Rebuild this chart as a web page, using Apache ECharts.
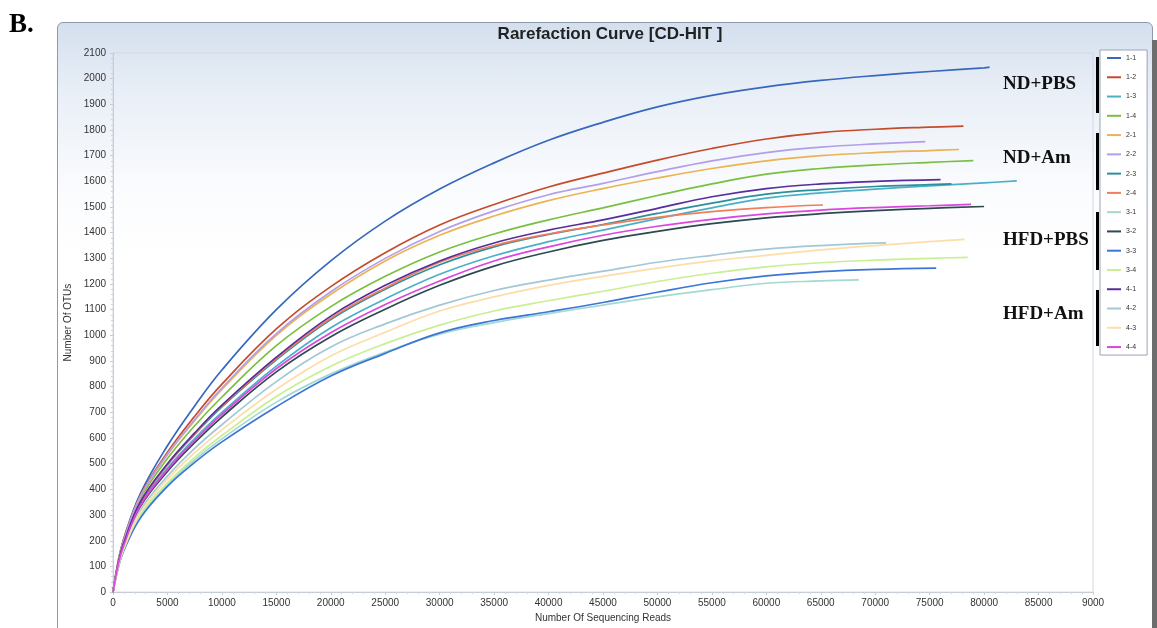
<!DOCTYPE html>
<html>
<head>
<meta charset="utf-8">
<script src="https://cdn.jsdelivr.net/npm/echarts@6/dist/echarts.min.js"></script>
<style>
  html, body { margin: 0; padding: 0; background: #fff; }
  #wrap { position: relative; width: 1157px; height: 628px; overflow: hidden; }
  #panel {
    position: absolute; left: 57px; top: 22px; width: 1094px; height: 640px;
    border: 1px solid #8d9aab; border-radius: 6px;
    background: linear-gradient(#d4dfee 0px, #e9eff7 70px, #fbfcfe 170px, #ffffff 240px);
  }
  #edge { position: absolute; left: 1152px; top: 40px; width: 5px; height: 588px; background: #6d6d6d; }
  #chart { position: absolute; left: 0; top: 0; width: 1157px; height: 628px; }
</style>
</head>
<body>
<div id="wrap">
  <div id="panel"></div>
  <div id="edge"></div>
  <div id="chart"></div>
</div>
<script>
// sampling depths (number of sequencing reads)
const readSteps = [0, 500, 1000, 2500, 5000, 7500, 10000, 15000, 20000, 25000, 30000,
  35000, 40000, 45000, 50000, 55000, 60000, 65000, 70000, 75000, 80000];

// OTU counts, one array per sample
const otu11 = [0, 125, 210, 383, 570, 725, 865, 1100, 1290, 1445, 1570, 1672, 1760, 1830, 1890, 1935, 1968, 1993, 2012, 2028, 2042];
const otu12 = [0, 122, 205, 375, 545, 685, 810, 1025, 1190, 1322, 1430, 1510, 1578, 1632, 1683, 1728, 1765, 1790, 1803, 1811];
const otu13 = [0, 112, 186, 340, 482, 598, 700, 880, 1030, 1142, 1238, 1310, 1365, 1410, 1455, 1497, 1535, 1555, 1570, 1582, 1594];
const otu14 = [0, 118, 198, 362, 520, 648, 760, 960, 1112, 1230, 1325, 1395, 1450, 1497, 1545, 1590, 1628, 1650, 1664, 1674];
const otu21 = [0, 120, 202, 370, 535, 668, 790, 1000, 1160, 1290, 1390, 1465, 1525, 1572, 1613, 1650, 1680, 1700, 1712, 1720];
const otu22 = [0, 120, 202, 372, 538, 672, 795, 1007, 1170, 1300, 1405, 1485, 1548, 1592, 1638, 1680, 1712, 1733, 1746];
const otu23 = [0, 114, 190, 347, 495, 614, 722, 905, 1062, 1180, 1275, 1345, 1393, 1432, 1475, 1515, 1550, 1568, 1580, 1587];
const otu24 = [0, 115, 191, 348, 497, 617, 725, 910, 1067, 1185, 1285, 1350, 1395, 1430, 1460, 1482, 1498];
const otu31 = [0, 100, 166, 296, 418, 515, 597, 740, 850, 935, 1005, 1050, 1085, 1118, 1150, 1178, 1203, 1212];
const otu32 = [0, 110, 182, 332, 470, 582, 682, 858, 995, 1102, 1195, 1270, 1325, 1370, 1405, 1435, 1458, 1474, 1486, 1495];
const otu33 = [0, 98, 162, 288, 412, 505, 585, 722, 842, 930, 1010, 1058, 1092, 1128, 1168, 1205, 1232, 1248, 1257];
const otu34 = [0, 102, 168, 302, 425, 525, 610, 762, 880, 968, 1040, 1095, 1135, 1172, 1210, 1242, 1267, 1283, 1293, 1300];
const otu41 = [0, 115, 192, 350, 500, 620, 728, 915, 1075, 1195, 1290, 1360, 1410, 1450, 1495, 1540, 1572, 1590, 1600];
const otu42 = [0, 106, 176, 318, 452, 560, 652, 820, 955, 1045, 1118, 1175, 1215, 1250, 1285, 1312, 1336, 1350];
const otu43 = [0, 104, 172, 310, 440, 543, 632, 790, 920, 1012, 1095, 1150, 1195, 1230, 1262, 1290, 1312, 1333, 1350, 1365];
const otu44 = [0, 111, 184, 336, 477, 590, 692, 870, 1010, 1120, 1212, 1290, 1345, 1390, 1425, 1452, 1473, 1488, 1498, 1505];

// last point of each curve (total reads of the sample, OTUs)
const endReads = [80500, 78100, 83000, 79000, 77700, 74600, 77000, 65200, 68500, 80000, 75600, 78500, 76000, 71000, 78200, 78800];
const endOtus = [2045, 1815, 1602, 1681, 1724, 1755, 1590, 1508, 1216, 1502, 1262, 1304, 1607, 1360, 1374, 1510];

const sampleNames = ['1-1', '1-2', '1-3', '1-4', '2-1', '2-2', '2-3', '2-4', '3-1', '3-2', '3-3', '3-4', '4-1', '4-2', '4-3', '4-4'];
const sampleColors = ['#3768bd', '#c64b2b', '#4bb0c6', '#79c040', '#ecb353', '#b39eea', '#2e8e9c', '#f27d5a',
  '#a3d9d1', '#2d4a50', '#3b76d8', '#c8ef92', '#5a2d9c', '#a2c8d6', '#fddda8', '#dc46dc'];
const otuTable = [otu11, otu12, otu13, otu14, otu21, otu22, otu23, otu24, otu31, otu32, otu33, otu34, otu41, otu42, otu43, otu44];

const groupLabels = ['ND+PBS', 'ND+Am', 'HFD+PBS', 'HFD+Am'];

const chart = echarts.init(document.getElementById('chart'));

const series = sampleNames.map((name, i) => {
  const pts = otuTable[i].map((v, k) => [readSteps[k], v]);
  pts.push([endReads[i], endOtus[i]]);
  return {
    name: name,
    type: 'line',
    data: pts,
    symbol: 'none',
    smooth: 0.4,
    lineStyle: { width: 1.7, color: sampleColors[i] },
    itemStyle: { color: sampleColors[i] },
    z: 2
  };
});

const labelFont = 'Liberation Sans, Arial, sans-serif';
const graphics = [
  { type: 'text', left: 9, top: 12, style: { text: 'B.', font: 'bold 27px "Liberation Serif", serif', fill: '#000' } }
];
const groupTops = [75, 149, 231, 305];
const barSpans = [[57, 113], [133, 190], [212, 270], [290, 346]];
groupLabels.forEach((g, i) => {
  graphics.push({ type: 'text', left: 1003, top: groupTops[i],
    style: { text: g, font: 'bold 19px "Liberation Serif", serif', fill: '#111' } });
  graphics.push({ type: 'rect', shape: { x: 1096, y: barSpans[i][0], width: 3, height: barSpans[i][1] - barSpans[i][0] },
    style: { fill: '#000' }, z: 10 });
});

chart.setOption({
  animation: false,
  backgroundColor: 'transparent',
  title: {
    text: 'Rarefaction Curve [CD-HIT ]',
    left: 605,
    top: 21,
    textAlign: 'center',
    textStyle: { fontFamily: labelFont, fontSize: 17, fontWeight: 'bold', color: '#222' }
  },
  legend: {
    orient: 'vertical',
    left: 1100,
    top: 50,
    padding: [3, 11, 3, 7],
    icon: 'rect',
    itemWidth: 14,
    itemHeight: 2,
    itemGap: 9.27,
    backgroundColor: '#fff',
    borderColor: '#9aa5b4',
    borderWidth: 1,
    textStyle: { fontSize: 7, lineHeight: 10, color: '#333', fontFamily: labelFont },
    data: sampleNames
  },
  grid: {
    left: 113, right: 64, top: 53, bottom: 34,
    show: true, borderColor: '#d3d9e2', borderWidth: 1, backgroundColor: 'transparent'
  },
  xAxis: {
    type: 'value',
    min: 0, max: 90000, interval: 5000,
    name: 'Number Of Sequencing Reads',
    nameLocation: 'middle',
    nameGap: 17,
    nameTextStyle: { fontFamily: labelFont, fontSize: 10, color: '#333' },
    axisLine: { lineStyle: { color: '#c7cdd6' } },
    axisTick: { show: true, length: 3, lineStyle: { color: '#c7cdd6' } },
    minorTick: { show: true, splitNumber: 5, length: 2, lineStyle: { color: '#cfd5dd' } },
    axisLabel: {
      fontFamily: labelFont, fontSize: 10, color: '#333', margin: 6,
      formatter: v => (v === 90000 ? '9000' : String(v))
    },
    splitLine: { show: false }
  },
  yAxis: {
    type: 'value',
    min: 0, max: 2100, interval: 100,
    name: 'Number Of OTUs',
    nameLocation: 'middle',
    nameGap: 35,
    nameTextStyle: { fontFamily: labelFont, fontSize: 10, color: '#333' },
    axisLine: { show: true, lineStyle: { color: '#c7cdd6' } },
    axisTick: { show: true, length: 3, lineStyle: { color: '#c7cdd6' } },
    minorTick: { show: true, splitNumber: 5, length: 2, lineStyle: { color: '#cfd5dd' } },
    axisLabel: { fontFamily: labelFont, fontSize: 10, color: '#333', margin: 7, formatter: v => String(v) },
    splitLine: { show: false }
  },
  graphic: graphics,
  series: series
});
</script>
</body>
</html>
